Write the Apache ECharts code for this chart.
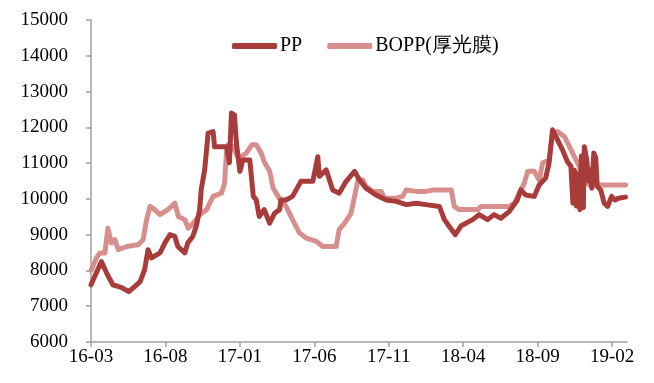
<!DOCTYPE html>
<html>
<head>
<meta charset="utf-8">
<script src="https://cdn.jsdelivr.net/npm/echarts@6/dist/echarts.min.js"></script>
<style>html,body{margin:0;padding:0;background:#fff;}#c{width:654px;height:383px;}</style>
</head>
<body>
<div id="c"></div>
<script>
const xTickLabels = ['16-03','16-08','17-01','17-06','17-11','18-04','18-09','19-02'];
const seriesNames = ['PP','BOPP(厚光膜)'];

const ppDates = ['2016-03-01','2016-03-04','2016-03-22','2016-04-02','2016-04-15','2016-05-03','2016-05-17','2016-05-29','2016-06-10','2016-06-19','2016-06-26','2016-07-03','2016-07-20','2016-07-30','2016-08-10','2016-08-20','2016-08-26','2016-09-10','2016-09-16','2016-09-26','2016-10-03','2016-10-10','2016-10-13','2016-10-20','2016-10-27','2016-11-07','2016-11-10','2016-12-04','2016-12-10','2016-12-14','2016-12-20','2016-12-24','2017-01-01','2017-01-07','2017-01-21','2017-01-28','2017-02-04','2017-02-10','2017-02-20','2017-03-01','2017-03-11','2017-03-21','2017-03-24','2017-04-04','2017-04-17','2017-05-04','2017-05-28','2017-06-08','2017-06-11','2017-06-25','2017-07-08','2017-07-21','2017-08-05','2017-08-22','2017-09-02','2017-09-15','2017-10-05','2017-10-26','2017-11-16','2017-12-06','2017-12-26','2018-01-16','2018-02-13','2018-02-23','2018-03-15','2018-03-27','2018-04-20','2018-05-03','2018-05-20','2018-06-03','2018-06-17','2018-07-04','2018-07-20','2018-07-27','2018-08-07','2018-08-24','2018-09-04','2018-09-17','2018-09-24','2018-10-01','2018-10-04','2018-10-11','2018-10-21','2018-11-01','2018-11-08','2018-11-12','2018-11-15','2018-11-19','2018-11-22','2018-11-26','2018-11-29','2018-12-03','2018-12-05','2018-12-10','2018-12-13','2018-12-17','2018-12-20','2018-12-24','2018-12-28','2019-01-01','2019-01-08','2019-01-15','2019-01-22','2019-01-30','2019-02-07','2019-02-14','2019-02-28'];
const ppValues = [7600,7550,8250,7940,7600,7520,7410,7550,7690,8020,8580,8350,8490,8770,9000,8950,8670,8490,8770,8950,9230,9700,10250,10810,11840,11880,11460,11460,11010,12400,12350,11560,10770,11090,11090,10070,9970,9510,9700,9320,9600,9700,9970,9970,10070,10490,10490,11180,10630,10810,10250,10160,10490,10770,10530,10300,10110,9970,9930,9840,9880,9840,9790,9420,9000,9250,9420,9560,9420,9560,9460,9650,9970,10250,10110,10070,10390,10580,11000,11930,11980,11650,11370,11040,10910,9880,10810,9800,10700,9700,11200,9750,11460,11090,10500,10810,10300,11280,11150,10350,10250,9880,9790,10070,9970,10020,10050];

const boppDates = ['2016-03-01','2016-03-04','2016-03-12','2016-03-19','2016-03-29','2016-04-05','2016-04-12','2016-04-19','2016-04-26','2016-05-13','2016-06-06','2016-06-16','2016-06-23','2016-06-30','2016-07-06','2016-07-20','2016-08-06','2016-08-20','2016-08-27','2016-09-10','2016-09-17','2016-09-27','2016-10-10','2016-10-24','2016-11-07','2016-11-24','2016-11-30','2016-12-04','2016-12-07','2016-12-17','2016-12-28','2017-01-14','2017-01-25','2017-02-04','2017-02-14','2017-02-20','2017-03-01','2017-03-08','2017-03-21','2017-04-04','2017-04-17','2017-05-01','2017-05-15','2017-06-05','2017-06-18','2017-07-15','2017-07-21','2017-08-02','2017-08-15','2017-08-22','2017-08-29','2017-09-09','2017-09-15','2017-09-29','2017-10-16','2017-10-22','2017-11-16','2017-11-29','2017-12-06','2017-12-26','2018-01-16','2018-01-30','2018-03-07','2018-03-13','2018-03-23','2018-04-30','2018-05-07','2018-07-04','2018-07-14','2018-07-24','2018-08-04','2018-08-11','2018-08-24','2018-09-04','2018-09-11','2018-09-24','2018-10-01','2018-10-11','2018-10-25','2018-11-05','2018-11-15','2018-11-25','2018-12-05','2018-12-15','2019-02-28'];
const boppValues = [8000,8020,8350,8490,8490,9180,8770,8860,8580,8670,8720,8860,9420,9790,9740,9560,9700,9880,9510,9420,9180,9320,9560,9700,10070,10160,10440,11280,11510,11460,11140,11280,11510,11510,11280,11040,10770,10300,10000,9790,9420,9050,8900,8810,8670,8670,9140,9320,9600,10070,10530,10530,10350,10210,10210,10020,10020,10070,10250,10210,10210,10250,10250,9790,9700,9700,9790,9790,9880,10160,10440,10770,10770,10530,11000,11090,11840,11880,11740,11460,11180,10910,10530,10390,10390];

function toMonth(s) {
  const p = s.split('-').map(Number);
  return (p[0] - 2016) * 12 + (p[1] - 3) + (p[2] - 1) / 30;
}
function pairs(dates, vals) { return dates.map((d, i) => [toMonth(d), vals[i]]); }

const tickPos = xTickLabels.map((_, i) => i * 5);
const font = 'Liberation Serif, Times New Roman, serif';
const ppColor = '#A83C3B', boppColor = '#D78F8E';

const chart = echarts.init(document.getElementById('c'), null, {renderer: 'canvas'});
chart.setOption({
  animation: false,
  backgroundColor: '#ffffff',
  legend: {
    left: 227, top: 31,
    itemWidth: 45, itemHeight: 6, itemGap: 25,
    textStyle: {fontFamily: font, fontSize: 20, color: '#000', padding: [0, 0, 0, -2]},
    data: [
      {name: seriesNames[0], icon: 'roundRect', itemStyle: {color: ppColor}},
      {name: seriesNames[1], icon: 'roundRect', itemStyle: {color: boppColor}}
    ]
  },
  grid: {left: 91, right: 27, top: 20, bottom: 41},
  xAxis: {
    type: 'value', min: 0, max: 36,
    axisLine: {lineStyle: {color: '#a0a0a0', width: 1.5}},
    axisTick: {show: true, length: 5, lineStyle: {color: '#a0a0a0', width: 1.5}, customValues: tickPos},
    axisLabel: {customValues: tickPos, margin: 6, fontFamily: font, fontSize: 19, color: '#000',
      formatter: v => xTickLabels[Math.round(v / 5)] || ''},
    splitLine: {show: false}
  },
  yAxis: {
    type: 'value', min: 6000, max: 15000, interval: 1000,
    axisLine: {show: true, lineStyle: {color: '#a0a0a0', width: 1.5}},
    axisTick: {show: true, length: 5, lineStyle: {color: '#a0a0a0', width: 1.5}},
    axisLabel: {margin: 23, fontFamily: font, fontSize: 19, color: '#000', formatter: v => String(v)},
    splitLine: {show: false}
  },
  series: [
    {name: seriesNames[0], type: 'line', data: pairs(ppDates, ppValues), symbol: 'none', z: 3,
     lineStyle: {color: ppColor, width: 5, cap: 'round', join: 'round'}, itemStyle: {color: ppColor}},
    {name: seriesNames[1], type: 'line', data: pairs(boppDates, boppValues), symbol: 'none', z: 2,
     lineStyle: {color: boppColor, width: 5, cap: 'round', join: 'round'}, itemStyle: {color: boppColor}}
  ]
});
</script>
</body>
</html>
